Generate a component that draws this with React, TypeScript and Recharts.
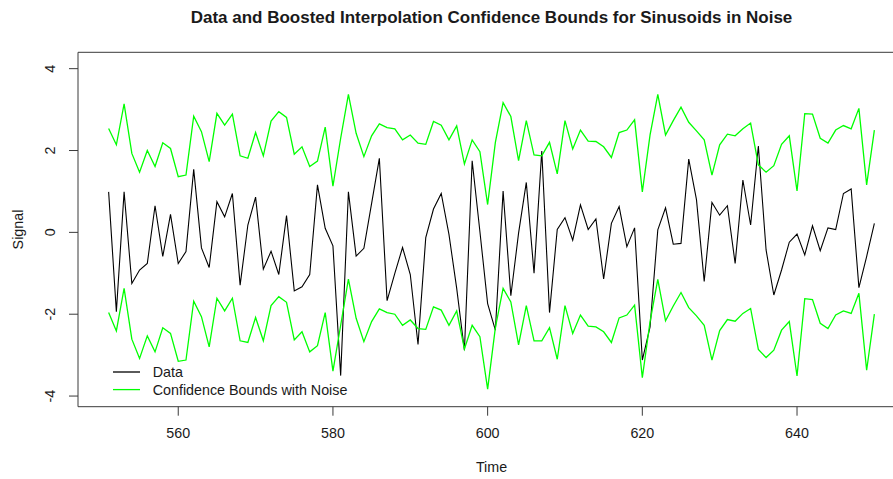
import React from "react";
import { LineChart, Line, XAxis, YAxis, ReferenceArea, Legend, Label } from "recharts";

const times = [
  551, 552, 553, 554, 555, 556, 557, 558, 559, 560, 561, 562, 563, 564, 565, 566, 567, 568, 569, 570,
  571, 572, 573, 574, 575, 576, 577, 578, 579, 580, 581, 582, 583, 584, 585, 586, 587, 588, 589, 590,
  591, 592, 593, 594, 595, 596, 597, 598, 599, 600, 601, 602, 603, 604, 605, 606, 607, 608, 609, 610,
  611, 612, 613, 614, 615, 616, 617, 618, 619, 620, 621, 622, 623, 624, 625, 626, 627, 628, 629, 630,
  631, 632, 633, 634, 635, 636, 637, 638, 639, 640, 641, 642, 643, 644, 645, 646, 647, 648, 649, 650,
];

const signal = [
  0.99, -1.94, 0.99, -1.25, -0.92, -0.76, 0.65, -0.59, 0.44, -0.76,
  -0.47, 1.54, -0.38, -0.86, 0.75, 0.38, 0.95, -1.29, 0.18, 0.86,
  -0.9, -0.46, -1.03, 0.41, -1.43, -1.33, -1.03, 1.16, 0.1, -0.33,
  -3.5, 0.99, -0.58, -0.39, 0.71, 1.81, -1.67, -1.0, -0.37, -1.03,
  -2.74, -0.13, 0.57, 0.95, -0.05, -1.37, -2.88, 1.75, 0.02, -1.74,
  -2.39, 1.01, -1.55, -0.02, 1.22, -1.0, 1.99, -1.96, 0.07, 0.36,
  -0.19, 0.67, 0.07, 0.33, -1.14, 0.22, 0.63, -0.35, 0.11, -3.12,
  -2.31, 0.06, 0.6, -0.29, -0.27, 1.79, 0.8, -1.2, 0.73, 0.42,
  0.65, -0.76, 1.28, 0.18, 2.11, -0.43, -1.53, -0.92, -0.24, -0.04,
  -0.55, 0.16, -0.45, 0.11, 0.07, 0.95, 1.06, -1.35, -0.59, 0.22,
];

const upperBound = [
  2.54, 2.14, 3.14, 1.93, 1.47, 2.0, 1.61, 2.19, 2.05, 1.36,
  1.4, 2.84, 2.46, 1.73, 2.91, 2.62, 2.89, 1.87, 1.81, 2.44,
  1.87, 2.72, 2.95, 2.81, 1.91, 2.09, 1.61, 1.74, 2.57, 1.13,
  2.3, 3.37, 2.42, 1.85, 2.36, 2.65, 2.56, 2.53, 2.26, 2.38,
  2.18, 2.15, 2.71, 2.62, 2.26, 2.6, 1.67, 2.26, 1.97, 0.68,
  2.2, 3.17, 2.83, 1.75, 2.73, 1.89, 1.87, 2.2, 1.43, 2.73,
  2.04, 2.5, 2.23, 2.22, 2.09, 1.83, 2.44, 2.5, 2.75, 0.99,
  2.38, 3.37, 2.38, 2.73, 3.06, 2.69, 2.48, 2.26, 1.4, 2.14,
  2.4, 2.36, 2.53, 2.67, 1.65, 1.47, 1.63, 2.15, 2.36, 1.01,
  2.9, 2.89, 2.3, 2.18, 2.5, 2.61, 2.53, 3.03, 1.16, 2.5,
];

const lowerBound = [
  -1.96, -2.41, -1.37, -2.61, -3.08, -2.53, -2.92, -2.33, -2.47, -3.15,
  -3.12, -1.68, -2.06, -2.8, -1.61, -1.92, -1.61, -2.65, -2.69, -2.08,
  -2.65, -1.79, -1.57, -1.71, -2.63, -2.43, -2.92, -2.77, -1.96, -3.39,
  -2.27, -1.14, -2.1, -2.67, -2.18, -1.87, -1.96, -2.0, -2.27, -2.14,
  -2.35, -2.37, -1.82, -1.9, -2.27, -1.92, -2.85, -2.27, -2.55, -3.83,
  -2.33, -1.37, -1.7, -2.75, -1.79, -2.65, -2.65, -2.33, -3.1, -1.79,
  -2.47, -2.02, -2.29, -2.31, -2.43, -2.69, -2.09, -2.02, -1.78, -3.55,
  -2.18, -1.15, -2.16, -1.8, -1.47, -1.84, -2.04, -2.27, -3.12, -2.4,
  -2.13, -2.17, -1.98, -1.86, -2.86, -3.06, -2.88, -2.39, -2.18, -3.51,
  -1.62, -1.64, -2.22, -2.35, -2.02, -1.92, -1.98, -1.49, -3.37, -2.0,
];

const xTicks = [560, 580, 600, 620, 640];
const yTicks = [-4, -2, 0, 2, 4];
const xDomain: [number, number] = [547.04, 653.96];
const yDomain: [number, number] = [-4.26, 4.4];

const title = "Data and Boosted Interpolation Confidence Bounds for Sinusoids in Noise";
const legendOrder = ["Data", "Confidence Bounds with Noise"];

const data = times.map((t, i) => ({
  t,
  signal: signal[i],
  upper: upperBound[i],
  lower: lowerBound[i],
}));

const FONT = "'Liberation Sans', Arial, Helvetica, sans-serif";
const TEXT = "#1a1a1a";
const AXIS = "#3a3a3a";

const XTick = (props: any) => {
  const { x, y, payload } = props;
  return (
    <text x={x} y={y + 15} textAnchor="middle" dominantBaseline="central" fontFamily={FONT} fontSize={14.3} fill={TEXT}>
      {payload.value}
    </text>
  );
};

const YTick = (props: any) => {
  const { x, y, payload } = props;
  const cx = x - 17;
  return (
    <text
      x={cx}
      y={y}
      transform={`rotate(-90, ${cx}, ${y})`}
      textAnchor="middle"
      dominantBaseline="central"
      fontFamily={FONT}
      fontSize={14.3}
      fill={TEXT}
    >
      {payload.value}
    </text>
  );
};

const LegendContent = (props: any) => {
  const items = (props.payload || [])
    .filter((p: any) => p.type !== "none" && legendOrder.includes(p.value))
    .sort((a: any, b: any) => legendOrder.indexOf(a.value) - legendOrder.indexOf(b.value));
  return (
    <svg width={260} height={40} style={{ display: "block" }}>
      {items.map((p: any, i: number) => (
        <g key={i}>
          <line x1={8} x2={35} y1={9 + i * 17.6} y2={9 + i * 17.6} stroke={p.color} strokeWidth={1.3} />
          <text x={47.7} y={9 + i * 17.6} dominantBaseline="central" fontFamily={FONT} fontSize={14.3} fill={TEXT}>
            {p.value}
          </text>
        </g>
      ))}
    </svg>
  );
};

export default function App() {
  return (
    <div style={{ position: "absolute", left: 0, top: 0, width: 893, height: 479, overflow: "hidden", background: "#fff" }}>
      <div
        style={{
          position: "absolute",
          left: 0,
          top: 7,
          width: 983,
          textAlign: "center",
          fontFamily: FONT,
          fontWeight: "bold",
          fontSize: 17,
          lineHeight: "22px",
          color: TEXT,
          whiteSpace: "nowrap",
        }}
      >
        {title}
      </div>
      <LineChart width={905} height={479} data={data} margin={{ top: 52.3, right: 0, bottom: 0, left: 0 }}>
        <XAxis
          dataKey="t"
          type="number"
          domain={xDomain}
          ticks={xTicks}
          allowDataOverflow
          height={72.3}
          tickSize={9}
          axisLine={false}
          tickLine={{ stroke: AXIS }}
          tick={<XTick />}
          interval={0}
        >
          <Label
            content={(p: any) => {
              const vb = p.viewBox;
              return (
                <text x={vb.x + vb.width / 2} y={467} textAnchor="middle" dominantBaseline="central" fontFamily={FONT} fontSize={14.3} fill={TEXT}>
                  Time
                </text>
              );
            }}
          />
        </XAxis>
        <YAxis
          type="number"
          domain={yDomain}
          ticks={yTicks}
          allowDataOverflow
          width={78}
          tickSize={9}
          axisLine={false}
          tickLine={{ stroke: AXIS }}
          tick={<YTick />}
          interval={0}
        >
          <Label
            content={(p: any) => {
              const vb = p.viewBox;
              const cy = vb.y + vb.height / 2;
              return (
                <text x={18} y={cy} transform={`rotate(-90, 18, ${cy})`} textAnchor="middle" dominantBaseline="central" fontFamily={FONT} fontSize={14.3} fill={TEXT}>
                  Signal
                </text>
              );
            }}
          />
        </YAxis>
        <ReferenceArea x1={xDomain[0]} x2={xDomain[1]} y1={yDomain[0]} y2={yDomain[1]} fill="none" stroke={AXIS} strokeWidth={1} ifOverflow="visible" />
        <Line dataKey="signal" name="Data" stroke="#000000" strokeWidth={1.1} dot={false} isAnimationActive={false} />
        <Line dataKey="upper" name="Confidence Bounds with Noise" stroke="#00FF00" strokeWidth={1.3} dot={false} isAnimationActive={false} />
        <Line dataKey="lower" name="Confidence Bounds lower" stroke="#00FF00" strokeWidth={1.3} dot={false} legendType="none" isAnimationActive={false} />
        <Legend
          layout="horizontal"
          verticalAlign="middle"
          align="center"
          content={<LegendContent />}
          wrapperStyle={{ position: "absolute", left: 105, top: 363, width: 260, height: 40 }}
        />
      </LineChart>
    </div>
  );
}
